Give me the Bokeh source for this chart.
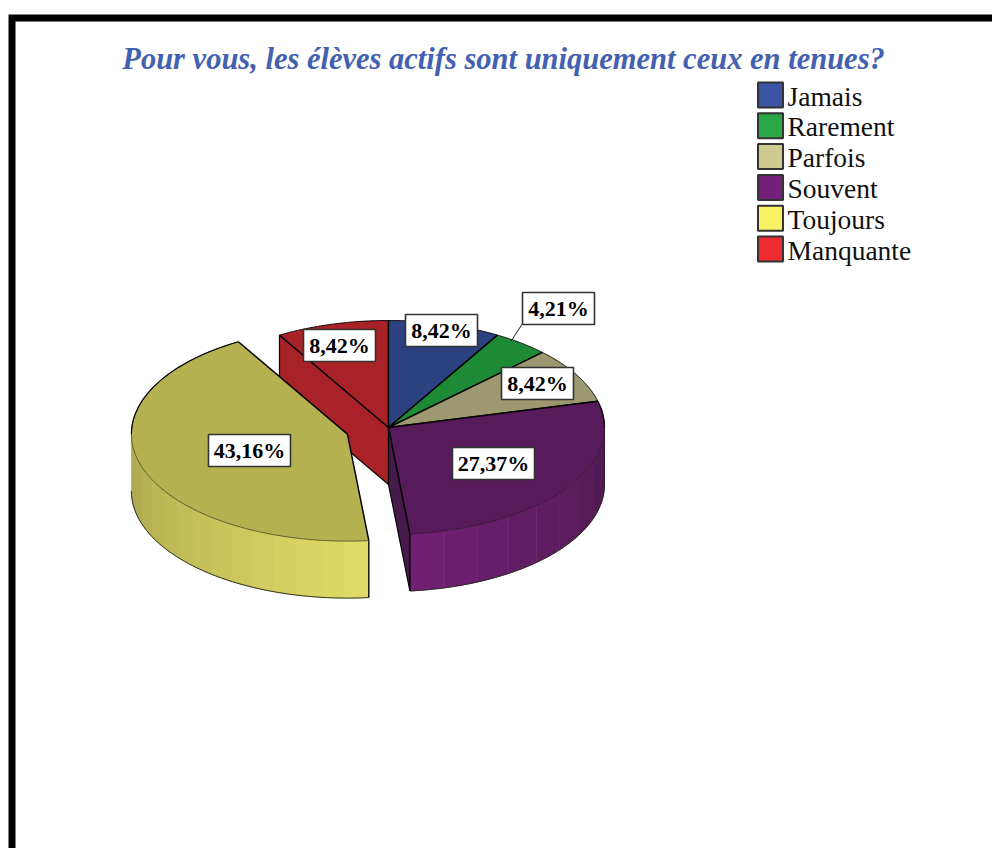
import numpy as np
from bokeh.plotting import figure
from bokeh.models import Range1d
from bokeh.core.properties import value
from bokeh.embed import file_html
from bokeh.resources import INLINE

TITLE = "Pour vous, les élèves actifs sont uniquement ceux en tenues?"
categories = ["Jamais", "Rarement", "Parfois", "Souvent", "Toujours", "Manquante"]
percentages = [8.42, 4.21, 8.42, 27.37, 43.16, 8.42]
pct_labels = ["8,42%", "4,21%", "8,42%", "27,37%", "43,16%", "8,42%"]
explode = [0, 0, 0, 0, 0.2, 0]
legend_colors = ["#3A55A8", "#2AA845", "#CFCA92", "#74207A", "#F9F265", "#EE2C30"]
top_colors = ["#2C4180", "#1F8A35", "#9C9970", "#571A5A", "#B5B050", "#A82228"]
wall_dark = {"Souvent": "#4C1A50", "Toujours": "#ABA64E"}
wall_light = {"Souvent": "#702072", "Toujours": "#DFDB66"}
label_centers = {0: (441, 330), 1: (558, 308), 2: (537, 383), 3: (493, 463), 4: (249, 450), 5: (339, 345)}

CX, CY, RX, RY, DEPTH = 388.0, 427.0, 216.0, 107.0, 57.0

p = figure(width=992, height=848, x_range=Range1d(0, 992), y_range=Range1d(848, 0),
           x_axis_location=None, y_axis_location=None, toolbar_location=None,
           output_backend="svg", min_border=0, outline_line_color=None,
           background_fill_color="white", border_fill_color="white")
p.grid.visible = False

# frame
p.line([11.5, 11.5, 992], [848, 17.5, 17.5], line_color="black", line_width=7, line_join="miter")

# title
p.text([503], [58], text=[TITLE], text_font=value("Liberation Serif"), text_font_style="bold italic",
       text_font_size="30.5px", text_color="#4460B0", text_align="center", text_baseline="middle")

# geometry derived from values
edges = np.concatenate([[0], np.cumsum(percentages)]) / sum(percentages) * 2 * np.pi


def rim(o, a):
    a = np.asarray(a)
    return o[0] + RX * np.sin(a), o[1] - RY * np.cos(a)


origins, arcs = [], []
for i in range(len(categories)):
    mid = (edges[i] + edges[i + 1]) / 2
    o = (CX + explode[i] * RX * np.sin(mid), CY - explode[i] * RY * np.cos(mid))
    origins.append(o)
    arcs.append(np.linspace(edges[i], edges[i + 1], 80))


def edge_line(xs, ys, width=1.3, color="#050505"):
    p.line(list(xs), list(ys), line_color=color, line_width=width)


def mix(c1, c2, t):
    a = [int(c1[k:k + 2], 16) for k in (1, 3, 5)]
    b = [int(c2[k:k + 2], 16) for k in (1, 3, 5)]
    return "#%02x%02x%02x" % tuple(int(round(x + (y - x) * t)) for x, y in zip(a, b))


def draw_top(i):
    o = origins[i]
    x, y = rim(o, arcs[i])
    p.patch([o[0]] + list(x), [o[1]] + list(y), fill_color=top_colors[i], line_color=None)
    return o, x, y


def draw_outer_wall(i, n_facets):
    name = categories[i]
    start, end = max(edges[i], np.pi / 2), min(edges[i + 1], 3 * np.pi / 2)
    bounds = np.linspace(start, end, n_facets + 1)
    for k in range(n_facets):
        a = np.linspace(bounds[k], bounds[k + 1], 8)
        x, y = rim(origins[i], a)
        t = k / (n_facets - 1)
        col = mix(wall_dark[name], wall_light[name], t if name == "Souvent" else 1 - t)
        p.patch(list(x) + list(x[::-1]), list(y) + list(y[::-1] + DEPTH), fill_color=col,
                line_color=col, line_width=0.6)
    a = np.linspace(start, end, 120)
    x, y = rim(origins[i], a)
    edge_line(x, y + DEPTH, 1.0, "#2a2a1a")


# Manquante (back, with its inner wall)
i = 5
o = origins[i]
x0, y0 = rim(o, edges[i])
p.patch([x0, x0, o[0], o[0]], [y0, y0 + DEPTH, o[1] + DEPTH, o[1]], fill_color=top_colors[i], line_color="#050505", line_width=1.2)
o, x, y = draw_top(i)
edge_line(x, y, 1.0)
edge_line([x0, o[0], o[0]], [y0, o[1], o[1] - RY], 1.4)

# back slices
for i in (0, 1, 2):
    o, x, y = draw_top(i)
    edge_line(x, y, 1.0)
    edge_line([x[0], o[0], x[-1]], [y[0], o[1], y[-1]], 1.4)

# Souvent
i = 3
o = origins[i]
x1, y1 = rim(o, edges[i + 1])
p.patch([o[0], x1, x1, o[0]], [o[1], y1, y1 + DEPTH, o[1] + DEPTH], fill_color="#471A4C", line_color="#050505", line_width=1.2)
draw_outer_wall(i, 9)
o, x, y = draw_top(i)
edge_line([x[0], o[0], x[-1]], [y[0], o[1], y[-1]], 1.5)
edge_line(x, y, 0.8, "#30102f")
edge_line([x1, x1], [y1, y1 + DEPTH], 1.4)
xr, yr = rim(o, np.linspace(edges[i], np.pi / 2, 20))
edge_line(xr, yr, 1.2)
edge_line([o[0] + RX, o[0] + RX], [o[1], o[1] + DEPTH], 0.8, "#30102f")

# Toujours
i = 4
draw_outer_wall(i, 15)
o, x, y = draw_top(i)
edge_line([x[0], o[0], x[-1]], [y[0], o[1], y[-1]], 1.5)
edge_line(x, y, 0.8, "#4a4820")
xl, yl = rim(o, np.linspace(3 * np.pi / 2, edges[i + 1], 40))
edge_line(xl, yl, 1.2)
x1, y1 = rim(o, edges[i])
edge_line([x1, x1], [y1, y1 + DEPTH], 1.4)

# leader line for the small slice
mid = (edges[1] + edges[2]) / 2
mx, my = rim(origins[1], mid)
lx, ly = label_centers[1]
edge_line([mx - 10, lx - 36], [my - 2, ly + 15], 1.0, "#222222")

# slice labels
for i, s in enumerate(pct_labels):
    lx, ly = label_centers[i]
    w = 82 if len(s) > 5 else 72
    p.rect([lx], [ly], width=w, height=32, fill_color="white", line_color="#333333", line_width=1.6)
    p.text([lx], [ly], text=[s], text_font=value("Liberation Serif"), text_font_style="bold",
           text_font_size="22px", text_color="black", text_align="center", text_baseline="middle")

# legend
for i, name in enumerate(categories):
    yc = 94.5 + i * 30.8
    p.rect([770], [yc], width=25, height=25, fill_color=legend_colors[i], line_color="#333333", line_width=2)
    p.text([787], [yc + 1], text=[name], text_font=value("Liberation Serif"), text_font_size="27.5px",
           text_color="#111111", text_align="left", text_baseline="middle")

open("out.html", "w").write(file_html(p, INLINE))
